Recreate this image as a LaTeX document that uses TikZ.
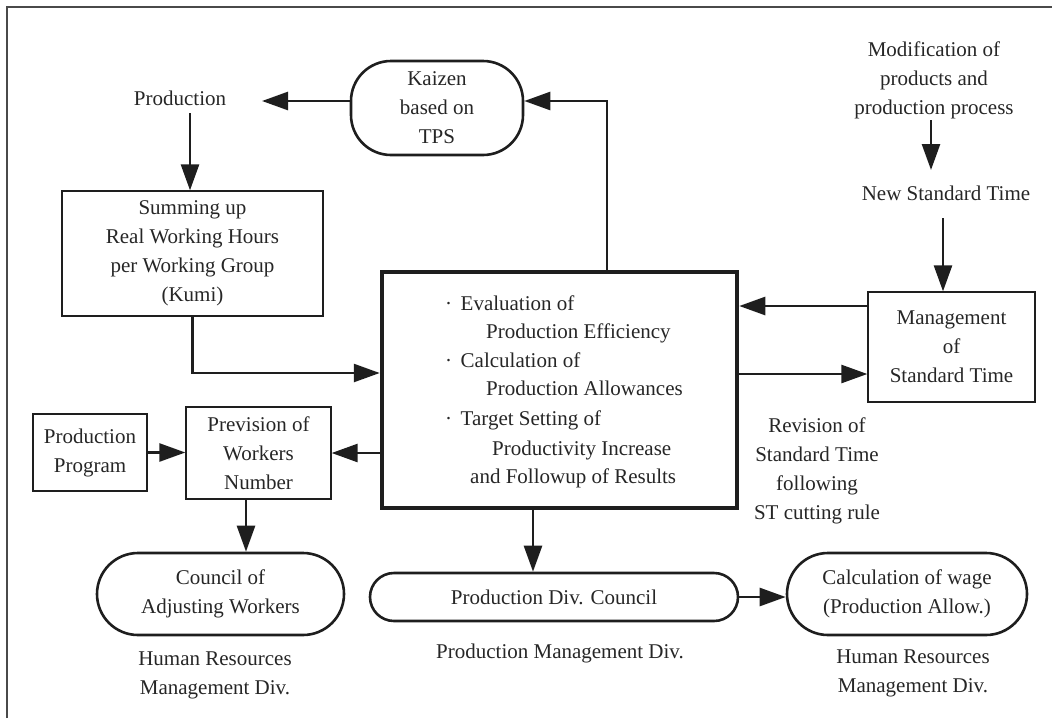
\documentclass[tikz,border=0pt]{standalone}
\usepackage{fontspec}
\setmainfont{Liberation Serif}
\usetikzlibrary{arrows.meta}
\definecolor{linec}{HTML}{1E1E1E}
\definecolor{txtc}{HTML}{262626}
\definecolor{framec}{HTML}{4A4A4A}
\begin{document}
\begin{tikzpicture}[x=1pt,y=-1pt,
  every node/.style={font=\fontsize{21}{29}\selectfont, text=txtc, inner sep=0pt},
  lbl/.style={align=center},
  sbox/.style={draw=linec, line width=1.3pt, align=center},
  rbox/.style={draw=linec, line width=2.6pt, align=center, rounded corners=#1},
  rbox/.default=40pt,
  cbox/.style={draw=linec, line width=4.5pt},
  arr/.style={draw=linec, line width=2.6pt, -{Triangle[length=26pt,width=18pt]}}]
\useasboundingbox (0,0) rectangle (1052,718);
\draw[framec, line width=1.5pt] (7,718) -- (7,7) -- (1052,7);

% nodes
\node[lbl] (prod) at (180,98) {Production};
\node[rbox=40pt, minimum width=172pt, minimum height=94pt] (kaizen) at (437,108) {Kaizen\\based on\\TPS};
\node[sbox, minimum width=261pt, minimum height=125pt] (sum) at (192.5,253.5) {Summing up\\Real Working Hours\\per Working Group\\(Kumi)};
\node[cbox, minimum width=355pt, minimum height=236pt] (central) at (559.5,390) {};
\node[anchor=base west] (e1) at (445,310) {·\hspace{8.5pt}Evaluation of};
\node[anchor=base west] (e2) at (486,338) {Production Efficiency};
\node[anchor=base west] (e3) at (445,367) {·\hspace{8.5pt}Calculation of};
\node[anchor=base west] (e4) at (486,395) {Production Allowances};
\node[anchor=base west] (e5) at (445,425) {·\hspace{8.5pt}Target Setting of};
\node[anchor=base west] (e6) at (492,455) {Productivity Increase};
\node[anchor=base west] (e7) at (470,483) {and Followup of Results};

\node[lbl] (modif) at (934,80) {Modification of\\products and\\production process};
\node[lbl] (newst) at (946,193) {New Standard Time};
\node[sbox, minimum width=167pt, minimum height=110pt] (mgmt) at (951.5,347) {Management\\of\\Standard Time};
\node[lbl] (rev) at (817,471) {Revision of\\Standard Time\\following\\ST cutting rule};

\node[sbox, minimum width=114pt, minimum height=77pt] (pp) at (90,452.5) {Production\\Program};
\node[sbox, minimum width=145pt, minimum height=92pt] (prev) at (258.5,453) {Prevision of\\Workers\\Number};
\node[rbox=41pt, minimum width=247pt, minimum height=82pt] (council) at (220.5,594) {Council of\\Adjusting Workers};
\node[lbl] (hr1) at (215,675) {Human Resources\\Management Div.};
\node[rbox=24pt, minimum width=368pt, minimum height=48pt] (pdc) at (554,597) {Production Div. Council};
\node[lbl] (pmd) at (560,653) {Production Management Div.};
\node[rbox=41pt, minimum width=240pt, minimum height=82pt] (calc) at (907,594) {Calculation of wage\\(Production Allow.)};
\node[lbl] (hr2) at (913,673) {Human Resources\\Management Div.};

% connectors
\coordinate (ptip) at (262,101);
\draw[arr] (ptip -| kaizen.west) -- (ptip);
\coordinate (kz) at (607,101);
\draw[arr] (central.north -| kz) -- (kz) -- (kz -| kaizen.east);
\coordinate (p1) at (190,113);
\draw[arr] (p1) -- (p1 |- sum.north);
\coordinate (s1) at (0,373);
\draw[arr] (sum.south) |- (s1 -| central.west);
\draw[arr] (central.west |- prev.east) -- (prev.east);
\draw[arr] (pp.east) -- (pp.east -| prev.west);
\coordinate (v1) at (246,0);
\draw[arr] (prev.south -| v1) -- (council.north -| v1);
\coordinate (m1) at (0,306);
\coordinate (m2) at (0,374);
\draw[arr] (m1 -| mgmt.west) -- (m1 -| central.east);
\draw[arr] (m2 -| central.east) -- (m2 -| mgmt.west);
\coordinate (n1) at (943,218);
\draw[arr] (n1) -- (n1 |- mgmt.north);
\coordinate (a1) at (931,120);
\coordinate (a2) at (931,170);
\draw[arr] (a1) -- (a2);
\coordinate (v2) at (533,0);
\draw[arr] (central.south -| v2) -- (pdc.north -| v2);
\draw[arr] (pdc.east) -- (pdc.east -| calc.west);
\end{tikzpicture}
\end{document}
